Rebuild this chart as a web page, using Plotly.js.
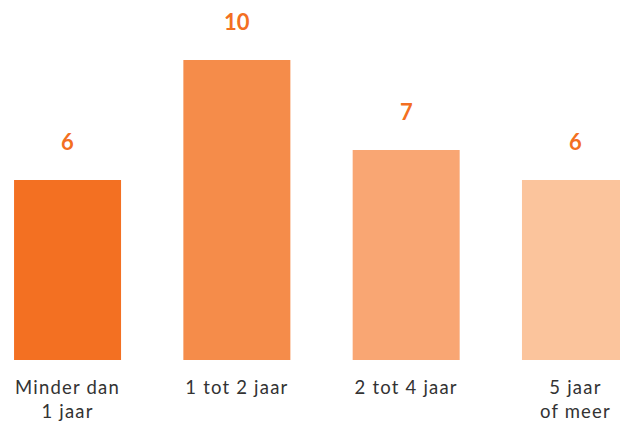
<!DOCTYPE html>
<html><head><meta charset="utf-8">
<script src="https://cdn.plot.ly/plotly-3.0.1.min.js"></script>
<style>html,body{margin:0;padding:0;background:#fff}#c{width:620px;height:421px}
#c .xtick text{letter-spacing:1.2px}</style>
</head><body><div id="c"></div>
<script>
const categories = ["Minder dan<br>1 jaar", "1 tot 2 jaar", "2 tot 4 jaar", "5 jaar<br>of meer"];
const values = [6, 10, 7, 6];
const barColors = ["#F37022", "#F58C4A", "#F9A673", "#FBC49C"];
const labelColor = "#F36F21";

const trace = {
  type: "bar",
  x: [0, 1, 2, 3],
  y: values,
  marker: {color: barColors},
  hoverinfo: "none"
};
const annotations = values.map((v, i) => ({
  x: i, y: v, xref: "x", yref: "y",
  text: String(v), showarrow: false,
  yanchor: "middle", yshift: 39,
  font: {family: "Lato", size: 22, color: labelColor, weight: "bold"}
}));
const layout = {
  width: 620, height: 421,
  margin: {l: 0, r: 0, t: 0, b: 61},
  paper_bgcolor: "#fff", plot_bgcolor: "#fff",
  bargap: 0.368,
  showlegend: false,
  xaxis: {
    range: [-0.399, 3.263],
    tickmode: "array", tickvals: [0, 1, 2, 3], ticktext: categories,
    showgrid: false, zeroline: false, showline: false, ticks: "",
    ticklabelstandoff: 14,
    tickfont: {family: "Lato", size: 18.5, color: "#333"},
    fixedrange: true
  },
  yaxis: {
    range: [0, 12], visible: false, showgrid: false, zeroline: false, fixedrange: true
  },
  annotations: annotations
};
Plotly.newPlot("c", [trace], layout, {displayModeBar: false, staticPlot: true});
</script></body></html>
